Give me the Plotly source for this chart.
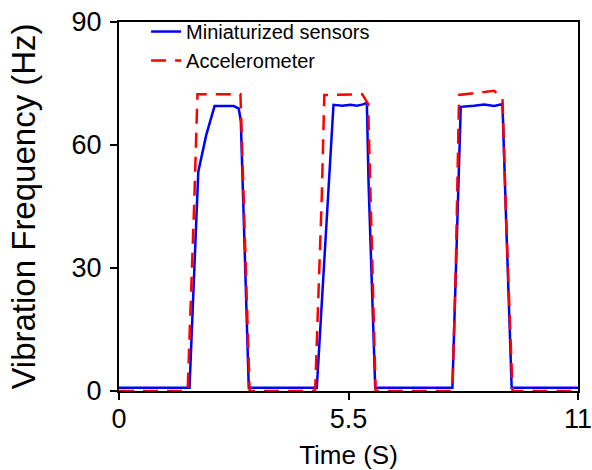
import plotly.graph_objects as go

# Miniaturized sensors (blue, solid)
sensor_t = [0, 1.69, 1.90, 2.09, 2.29, 2.55, 2.75, 2.87, 2.92, 3.11,
            4.74, 5.14, 5.35, 5.55, 5.70, 5.85, 5.94, 5.98, 6.14,
            7.99, 8.07, 8.19, 8.51, 8.75, 8.99, 9.19, 9.28, 9.41, 11]
sensor_v = [0.8, 0.8, 53.5, 62.4, 69.5, 69.6, 69.5, 68.9, 65.7, 0.8,
            0.8, 69.8, 69.6, 69.8, 69.6, 69.9, 70.3, 51.0, 0.8,
            0.8, 29.5, 69.3, 69.6, 69.9, 69.5, 70.0, 40.8, 0.8, 0.8]

# Accelerometer (red, dashed)
accel_t = [0, 1.645, 1.80, 1.88, 2.91, 3.13,
           4.70, 4.86, 4.92, 5.83, 5.97, 6.15,
           7.99, 8.07, 8.15, 8.99, 9.19, 9.28, 9.43, 11]
accel_v = [0, 0, 45.0, 72.4, 72.4, 0,
           0, 47.4, 72.2, 72.4, 70.0, 0,
           0, 29.5, 72.2, 73.2, 71.4, 41.0, 0, 0]

x_ticks = [0, 5.5, 11]
x_ticklabels = ["0", "5.5", "11"]
y_ticks = [0, 30, 60, 90]

FONT = "Arial, 'Liberation Sans', sans-serif"

fig = go.Figure()
fig.add_trace(go.Scatter(x=sensor_t, y=sensor_v, mode="lines",
                         name="Miniaturized sensors",
                         line=dict(color="#0000FF", width=2.5)))
fig.add_trace(go.Scatter(x=accel_t, y=accel_v, mode="lines",
                         name="Accelerometer",
                         line=dict(color="#FF0000", width=2.5, dash="15px,9px")))

axis_common = dict(showgrid=False, zeroline=False, showline=True,
                   linecolor="black", linewidth=2, mirror=True,
                   ticks="outside", ticklen=7, tickwidth=2, tickcolor="black",
                   tickfont=dict(family=FONT, size=27, color="black"),
                   automargin=False, layer="below traces",
                   ticklabeloverflow="allow")

fig.update_xaxes(range=[0, 11], tickvals=x_ticks, ticktext=x_ticklabels,
                 ticklabelstandoff=-4,
                 title=dict(text="Time (S)", font=dict(family=FONT, size=26, color="black"),
                            standoff=14),
                 **axis_common)
fig.update_yaxes(range=[0, 90], tickvals=y_ticks, ticklabelstandoff=3,
                 title=dict(text="Vibration Frequency (Hz)",
                            font=dict(family=FONT, size=33, color="black"),
                            standoff=26),
                 **axis_common)

fig.update_layout(
    width=592, height=470,
    margin=dict(l=119, r=14, t=22, b=79),
    paper_bgcolor="white", plot_bgcolor="white",
    font=dict(family=FONT, color="black"),
    legend=dict(x=0.059, y=1.027, xanchor="left", yanchor="top",
                bgcolor="rgba(0,0,0,0)", borderwidth=0,
                font=dict(family=FONT, size=20, color="black")),
    showlegend=True,
)

fig.write_html("out.html")
